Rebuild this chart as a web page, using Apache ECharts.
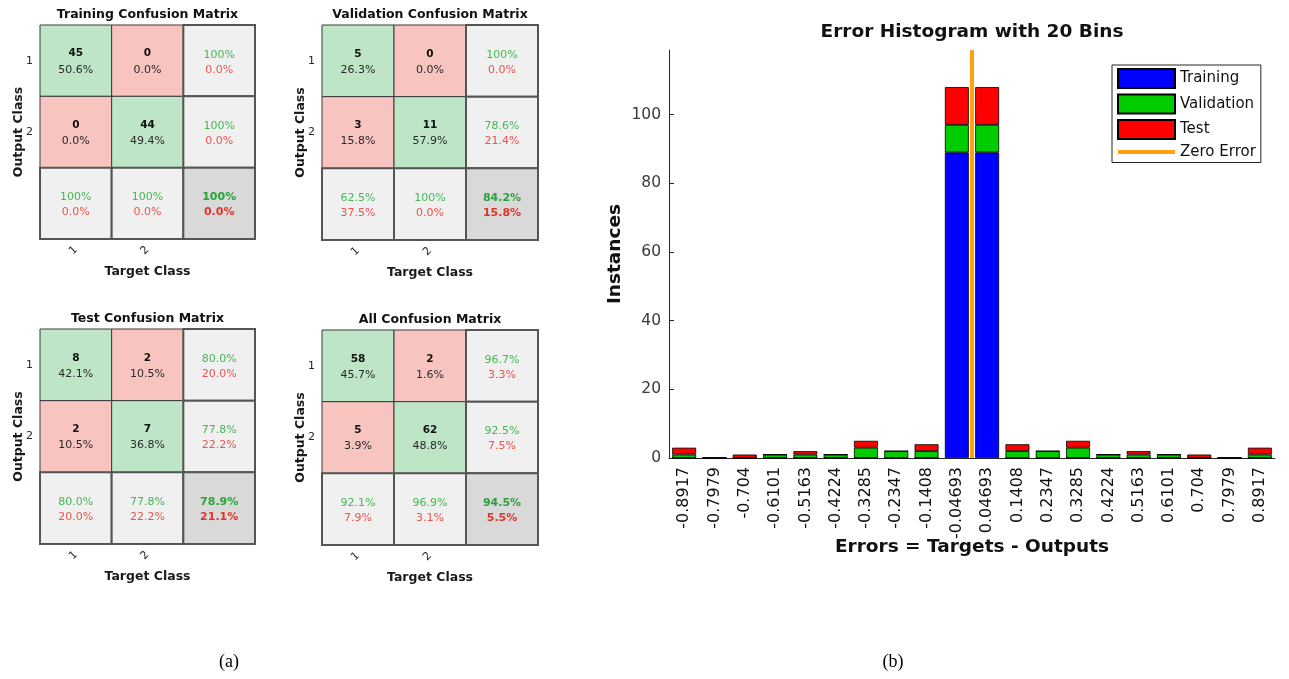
<!DOCTYPE html>
<html>
<head>
<meta charset="utf-8">
<script src="https://cdn.jsdelivr.net/npm/echarts@6/dist/echarts.min.js"></script>
<style>
html,body{margin:0;padding:0;background:#fff;}
#main{width:1289px;height:679px;}
</style>
</head>
<body>
<div id="main"></div>
<script>
// ---------- DATA ----------
const classLabels = ['1', '2'];
const matrixTitles = ['Training Confusion Matrix', 'Validation Confusion Matrix', 'Test Confusion Matrix', 'All Confusion Matrix'];
// rows = Output Class, cols = Target Class
const trainingCounts = [[45, 0], [0, 44]];
const validationCounts = [[5, 0], [3, 11]];
const testCounts = [[8, 2], [2, 7]];
const allCounts = [[58, 2], [5, 62]];

const histBins = ['-0.8917', '-0.7979', '-0.704', '-0.6101', '-0.5163', '-0.4224', '-0.3285', '-0.2347', '-0.1408', '-0.04693',
                  '0.04693', '0.1408', '0.2347', '0.3285', '0.4224', '0.5163', '0.6101', '0.704', '0.7979', '0.8917'];
const trainingHist   = [0, 0, 0, 0, 0, 0, 0, 0, 0, 89, 89, 0, 0, 0, 0, 0, 0, 0, 0, 0];
const validationHist = [1, 0, 0, 1, 1, 1, 3, 2, 2, 8, 8, 2, 2, 3, 1, 1, 1, 0, 0, 1];
const testHist       = [2, 0, 1, 0, 1, 0, 2, 0, 2, 11, 11, 2, 0, 2, 0, 1, 0, 1, 0, 2];
const histYTicks = [0, 20, 40, 60, 80, 100];
const histYMax = 118.8;
const zeroErrorX = 0;

// ---------- HELPERS ----------
const FONT = 'DejaVu Sans';
const AXIS_COLOR = '#262626';
function fmtPct(v) { return Math.abs(v - 100) < 1e-9 ? '100%' : v.toFixed(1) + '%'; }

function buildCells(counts) {
  const total = counts[0][0] + counts[0][1] + counts[1][0] + counts[1][1];
  const main = [], summary = [];
  for (let r = 0; r < 2; r++) {
    for (let c = 0; c < 2; c++) {
      main.push({ c, r, kind: r === c ? 'good' : 'bad',
        l1: String(counts[r][c]), l2: fmtPct(counts[r][c] / total * 100) });
    }
  }
  for (let r = 0; r < 2; r++) {
    const t = counts[r][0] + counts[r][1];
    summary.push({ c: 2, r, kind: 'sum', l1: fmtPct(counts[r][r] / t * 100), l2: fmtPct((t - counts[r][r]) / t * 100) });
  }
  for (let c = 0; c < 2; c++) {
    const t = counts[0][c] + counts[1][c];
    summary.push({ c, r: 2, kind: 'sum', l1: fmtPct(counts[c][c] / t * 100), l2: fmtPct((t - counts[c][c]) / t * 100) });
  }
  const correct = counts[0][0] + counts[1][1];
  summary.push({ c: 2, r: 2, kind: 'total', l1: fmtPct(correct / total * 100), l2: fmtPct((total - correct) / total * 100) });
  return main.concat(summary);
}

const FILL = { good: '#BDE5C6', bad: '#F8C4C0', sum: '#F0F0F0', total: '#D9D9D9' };

function makeRenderer(cells) {
  return function (params, api) {
    const cell = cells[api.value(2)];
    const p = api.coord([api.value(0), api.value(1)]);
    const s = api.size([1, 1]);
    const w = s[0], h = s[1];
    const isMain = cell.kind === 'good' || cell.kind === 'bad';
    const children = [{
      type: 'rect',
      shape: { x: p[0] - w / 2, y: p[1] - h / 2, width: w, height: h },
      style: { fill: FILL[cell.kind], stroke: isMain ? '#3a3a3a' : '#555', lineWidth: isMain ? 1 : 2 }
    }];
    if (isMain) {
      children.push({ type: 'text', style: { text: cell.l1, x: p[0], y: p[1] - 7, align: 'center', verticalAlign: 'middle',
        fontFamily: FONT, fontSize: 10.5, fontWeight: 'bold', fill: '#111' } });
      children.push({ type: 'text', style: { text: cell.l2, x: p[0], y: p[1] + 9, align: 'center', verticalAlign: 'middle',
        fontFamily: FONT, fontSize: 11, fill: '#2a2a2a' } });
    } else {
      const bold = cell.kind === 'total';
      children.push({ type: 'text', style: { text: cell.l1, x: p[0], y: p[1] - 6, align: 'center', verticalAlign: 'middle',
        fontFamily: FONT, fontSize: 11, fontWeight: bold ? 'bold' : 'normal', fill: bold ? '#2AA33A' : '#45B853' } });
      children.push({ type: 'text', style: { text: cell.l2, x: p[0], y: p[1] + 9, align: 'center', verticalAlign: 'middle',
        fontFamily: FONT, fontSize: 11, fontWeight: bold ? 'bold' : 'normal', fill: bold ? '#E0352B' : '#E8564C' } });
    }
    return { type: 'group', children };
  };
}

// ---------- LAYOUT ----------
const matrixGrids = [
  { left: 40, top: 25, width: 215, height: 214 },
  { left: 322, top: 25, width: 216, height: 215 },
  { left: 40, top: 329, width: 215, height: 215 },
  { left: 322, top: 330, width: 216, height: 215 }
];
const matrixCounts = [trainingCounts, validationCounts, testCounts, allCounts];
const axisCats = classLabels.concat(['']);

const grids = [], xAxes = [], yAxes = [], series = [], graphics = [];
matrixGrids.forEach((g, i) => {
  grids.push(Object.assign({ outerBoundsMode: 'none', containLabel: false }, g));
  xAxes.push({
    type: 'category', gridIndex: i, data: axisCats, position: 'bottom',
    axisLine: { show: false, onZero: false }, axisTick: { show: false }, splitLine: { show: false },
    axisLabel: { interval: 0, rotate: 45, margin: 9, fontFamily: FONT, fontSize: 11, color: AXIS_COLOR },
    name: 'Target Class', nameLocation: 'middle', nameGap: 26, nameMoveOverlap: false,
    nameTextStyle: { fontFamily: FONT, fontSize: 12.5, fontWeight: 'bold', color: '#1a1a1a' }
  });
  yAxes.push({
    type: 'category', gridIndex: i, data: axisCats, inverse: true,
    axisLine: { show: false, onZero: false }, axisTick: { show: false }, splitLine: { show: false },
    axisLabel: { interval: 0, margin: 7, fontFamily: FONT, fontSize: 11, color: AXIS_COLOR },
    name: 'Output Class', nameLocation: 'middle', nameGap: 15, nameRotate: 90, nameMoveOverlap: false,
    nameTextStyle: { fontFamily: FONT, fontSize: 12.5, fontWeight: 'bold', color: '#1a1a1a' }
  });
  const cells = buildCells(matrixCounts[i]);
  series.push({
    type: 'custom', name: matrixTitles[i], xAxisIndex: i, yAxisIndex: i, silent: true,
    renderItem: makeRenderer(cells),
    data: cells.map((cell, k) => [cell.c, cell.r, k])
  });
  graphics.push({
    type: 'text', x: g.left + g.width / 2, y: g.top - 10,
    style: { text: matrixTitles[i], align: 'center', verticalAlign: 'middle', fontFamily: FONT, fontSize: 12.5, fontWeight: 'bold', fill: '#111' }
  });
});

// Histogram
const HG = 4;
grids.push({ left: 669, top: 50, width: 606, height: 408, outerBoundsMode: 'none', containLabel: false });
xAxes.push({
  type: 'category', gridIndex: HG, data: histBins,
  axisLine: { onZero: false, lineStyle: { color: AXIS_COLOR, width: 1 } },
  axisTick: { inside: true, alignWithLabel: true, length: 5, interval: 0, lineStyle: { color: AXIS_COLOR } },
  axisLabel: { interval: 0, rotate: 90, margin: 9, fontFamily: FONT, fontSize: 16, color: '#111' },
  splitLine: { show: false },
  name: 'Errors = Targets - Outputs', nameLocation: 'middle', nameGap: 80, nameMoveOverlap: false,
  nameTextStyle: { fontFamily: FONT, fontSize: 18.5, fontWeight: 'bold', color: '#111' }
});
const binStep = (parseFloat(histBins[histBins.length - 1]) - parseFloat(histBins[0])) / (histBins.length - 1);
xAxes.push({
  type: 'value', gridIndex: HG, show: false,
  axisLine: { onZero: false },
  min: parseFloat(histBins[0]) - binStep / 2, max: parseFloat(histBins[histBins.length - 1]) + binStep / 2
});
yAxes.push({
  type: 'value', gridIndex: HG, min: 0, max: histYMax,
  axisLine: { show: true, onZero: false, lineStyle: { color: AXIS_COLOR, width: 1 } },
  axisTick: { show: true, inside: true, length: 5, customValues: histYTicks, lineStyle: { color: AXIS_COLOR } },
  axisLabel: { customValues: histYTicks, margin: 8, fontFamily: FONT, fontSize: 15.5, color: '#3a3a3a' },
  splitLine: { show: false },
  name: 'Instances', nameLocation: 'middle', nameGap: 44, nameRotate: 90, nameMoveOverlap: false,
  nameTextStyle: { fontFamily: FONT, fontSize: 18.5, fontWeight: 'bold', color: '#111' }
});
const barCommon = { type: 'bar', stack: 'hist', xAxisIndex: 4, yAxisIndex: HG, barWidth: '79%', silent: true };
series.push(Object.assign({ name: 'Training', data: trainingHist, itemStyle: { color: '#0000FF', borderColor: '#000', borderWidth: 0.8 } }, barCommon));
series.push(Object.assign({ name: 'Validation', data: validationHist, itemStyle: { color: '#00CC00', borderColor: '#000', borderWidth: 0.8 } }, barCommon));
series.push(Object.assign({ name: 'Test', data: testHist, itemStyle: { color: '#FF0000', borderColor: '#000', borderWidth: 0.8 } }, barCommon));
series.push({
  type: 'line', name: 'Zero Error', xAxisIndex: 5, yAxisIndex: HG, z: 10, silent: true,
  data: [[zeroErrorX, 0], [zeroErrorX, histYMax]], symbol: 'none', showSymbol: false,
  lineStyle: { color: '#FFA010', width: 4 }, itemStyle: { color: '#FFA010' }
});

graphics.push({
  type: 'text', x: 972, y: 32,
  style: { text: 'Error Histogram with 20 Bins', align: 'center', verticalAlign: 'middle', fontFamily: FONT, fontSize: 18.5, fontWeight: 'bold', fill: '#111' }
});
graphics.push({ type: 'text', x: 229, y: 662, style: { text: '(a)', align: 'center', verticalAlign: 'middle', fontFamily: 'Liberation Serif', fontSize: 18, fill: '#000' } });
graphics.push({ type: 'text', x: 893, y: 662, style: { text: '(b)', align: 'center', verticalAlign: 'middle', fontFamily: 'Liberation Serif', fontSize: 18, fill: '#000' } });

const chart = echarts.init(document.getElementById('main'), null, { renderer: 'canvas' });
chart.setOption({
  animation: false,
  backgroundColor: '#fff',
  grid: grids,
  xAxis: xAxes,
  yAxis: yAxes,
  legend: {
    orient: 'vertical', left: 1112, top: 65,
    data: [
      { name: 'Training', icon: 'rect' },
      { name: 'Validation', icon: 'rect' },
      { name: 'Test', icon: 'rect' },
      { name: 'Zero Error', icon: 'path://M0,0L57,0L57,4L0,4Z', itemStyle: { color: '#FFA010', borderWidth: 0 } }
    ],
    symbolKeepAspect: true,
    itemWidth: 57, itemHeight: 19, itemGap: 4.5, padding: [3, 5, 3, 5],
    backgroundColor: '#fff', borderColor: '#262626', borderWidth: 1,
    textStyle: { fontFamily: FONT, fontSize: 15, color: '#111' },
    selectedMode: false
  },
  graphic: graphics,
  series: series
});
</script>
</body>
</html>
